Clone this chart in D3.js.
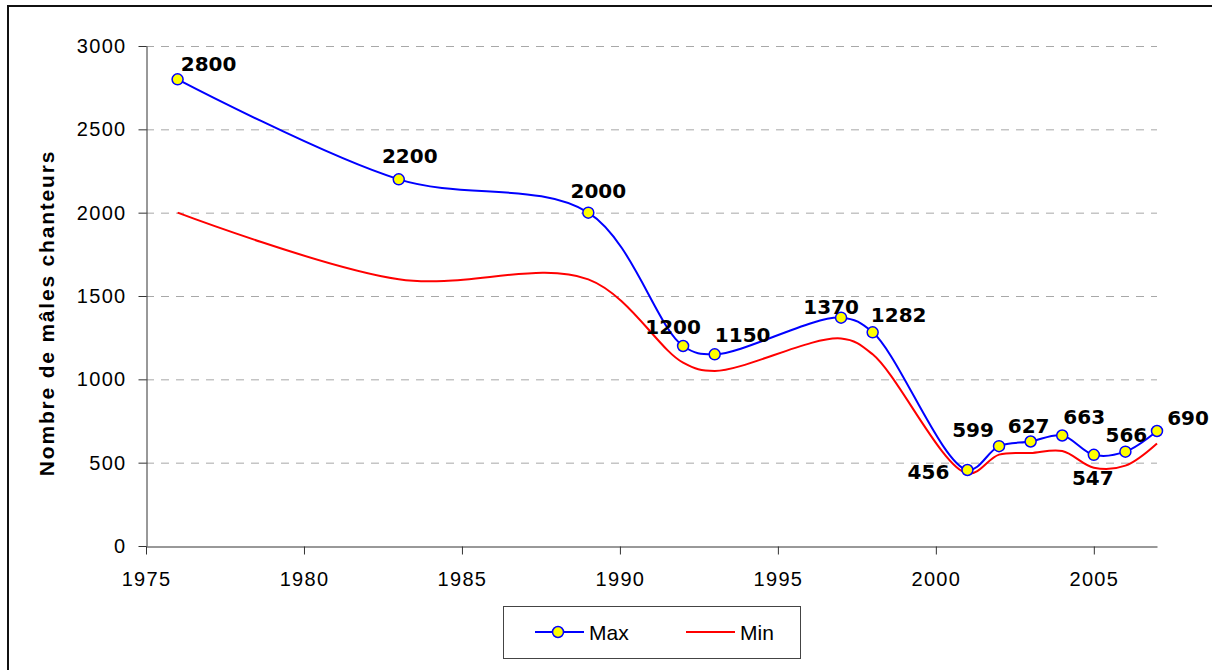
<!DOCTYPE html>
<html>
<head>
<meta charset="utf-8">
<script src="https://cdn.jsdelivr.net/npm/d3@7"></script>
<style>
  body { margin: 0; background: #fff; }
  svg { display: block; }
</style>
</head>
<body>
<div id="chart"></div>
<script>
// data
var years = [1976, 1983, 1989, 1992, 1993, 1997, 1998, 2001, 2002, 2003, 2004, 2005, 2006, 2007];
var maxValues = [2800, 2200, 2000, 1200, 1150, 1370, 1282, 456, 599, 627, 663, 547, 566, 690];
var minValues = [2000, 1600, 1600, 1100, 1050, 1245, 1150, 435, 548, 558, 570, 470, 482, 615];
var yTicks = [0, 500, 1000, 1500, 2000, 2500, 3000];
var xTicks = [1975, 1980, 1985, 1990, 1995, 2000, 2005];
var seriesNames = ["Max", "Min"];

// label nudges (dx from marker to label centre, dy to baseline)
var labelDx = [31, 11, 10, -10, 28, -10, 26, -39, -26, -2, 22, -1, 1, 31];
var labelDy = [-8, -16, -15, -12, -12, -4, -10, 9, -9, -9, -12, 30, -10, -6];

var width = 1212, height = 670;
var x0 = 146, x1 = 1157, y0 = 546, y1 = 46;

var svg = d3.select("#chart").append("svg")
  .attr("width", width)
  .attr("height", height);

// outer frame
svg.append("rect")
  .attr("x", 8).attr("y", 6)
  .attr("width", 1230).attr("height", 700)
  .attr("fill", "none").attr("stroke", "#111").attr("stroke-width", 2);

var x = d3.scaleLinear().domain([1975, 2007]).range([x0, x1]);
var y = d3.scaleLinear().domain([0, 3000]).range([y0, y1]);

// grid
svg.append("g").selectAll("line")
  .data(yTicks.filter(function(d) { return d > 0; }))
  .enter().append("line")
  .attr("x1", x0).attr("x2", x1)
  .attr("y1", function(d) { return y(d) + 0.5; })
  .attr("y2", function(d) { return y(d) + 0.5; })
  .attr("stroke", "#a8a8a8")
  .attr("stroke-width", 1)
  .attr("stroke-dasharray", "8,7");

// axes
var yAxis = svg.append("g")
  .attr("transform", "translate(" + (x0 + 0.5) + ",0)")
  .call(d3.axisLeft(y).tickValues(yTicks).tickFormat(d3.format("d")).tickSize(8).tickPadding(12).tickSizeOuter(0));
var xAxis = svg.append("g")
  .attr("transform", "translate(0," + (y0 + 0.5) + ")")
  .call(d3.axisBottom(x).tickValues(xTicks).tickFormat(d3.format("d")).tickSize(8).tickPadding(17).tickSizeOuter(0));

[yAxis, xAxis].forEach(function(ax) {
  ax.attr("font-family", "'Liberation Sans', Arial, sans-serif").attr("font-size", 20);
  ax.select(".domain").attr("stroke", "#333");
  ax.selectAll(".tick line").attr("stroke", "#333");
  ax.selectAll("text")
    .attr("fill", "#000")
    .style("letter-spacing", "1.3px");
});

// y title
svg.append("text")
  .attr("transform", "translate(54,313) rotate(-90)")
  .attr("text-anchor", "middle")
  .style("font-family", "'Liberation Sans', Arial, sans-serif")
  .style("font-weight", "bold")
  .style("font-size", "21px")
  .style("letter-spacing", "1.8px")
  .text("Nombre de mâles chanteurs");

var line = d3.line()
  .x(function(d) { return x(d[0]); })
  .y(function(d) { return y(d[1]); })
  .curve(d3.curveCatmullRom.alpha(0.5));

var minData = d3.zip(years, minValues);
var maxData = d3.zip(years, maxValues);

svg.append("path")
  .datum(minData)
  .attr("d", line)
  .attr("fill", "none")
  .attr("stroke", "#ff0000")
  .attr("stroke-width", 2);

svg.append("path")
  .datum(maxData)
  .attr("d", line)
  .attr("fill", "none")
  .attr("stroke", "#0000ff")
  .attr("stroke-width", 2);

svg.append("g").selectAll("circle")
  .data(maxData)
  .enter().append("circle")
  .attr("cx", function(d) { return x(d[0]); })
  .attr("cy", function(d) { return y(d[1]); })
  .attr("r", 5.5)
  .attr("fill", "#ffff00")
  .attr("stroke", "#0000ff")
  .attr("stroke-width", 1.5);

svg.append("g").selectAll("text")
  .data(maxData)
  .enter().append("text")
  .attr("x", function(d, i) { return x(d[0]) + labelDx[i]; })
  .attr("y", function(d, i) { return y(d[1]) + labelDy[i]; })
  .attr("text-anchor", "middle")
  .style("font-family", "'DejaVu Sans', sans-serif")
  .style("font-weight", "bold")
  .style("font-size", "20px")
  .text(function(d) { return d[1]; });

// legend
var legend = svg.append("g");
legend.append("rect")
  .attr("x", 503.5).attr("y", 606.5)
  .attr("width", 297).attr("height", 52)
  .attr("fill", "#fff").attr("stroke", "#444").attr("stroke-width", 1);

var legendX = [535, 686];
var legendColors = ["#0000ff", "#ff0000"];
seriesNames.forEach(function(name, i) {
  legend.append("line")
    .attr("x1", legendX[i]).attr("x2", legendX[i] + 49)
    .attr("y1", 632).attr("y2", 632)
    .attr("stroke", legendColors[i]).attr("stroke-width", 2);
  if (i === 0) {
    legend.append("circle")
      .attr("cx", legendX[i] + 23).attr("cy", 632).attr("r", 5.5)
      .attr("fill", "#ffff00").attr("stroke", "#0000ff").attr("stroke-width", 1.5);
  }
  legend.append("text")
    .attr("x", legendX[i] + 54).attr("y", 640)
    .style("font-family", "'Liberation Sans', Arial, sans-serif")
    .style("font-size", "21px")
    .text(name);
});
</script>
</body>
</html>
